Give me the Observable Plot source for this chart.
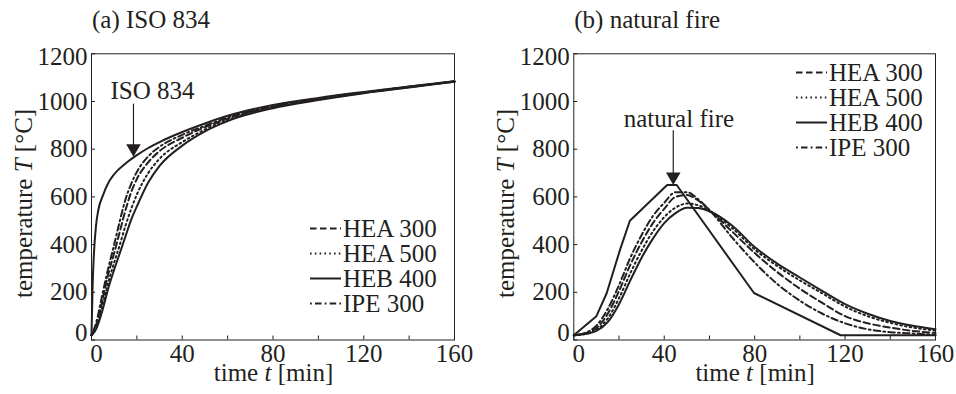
<!DOCTYPE html>
<html><head><meta charset="utf-8">
<script src="https://cdn.jsdelivr.net/npm/d3@7"></script>
<script src="https://cdn.jsdelivr.net/npm/@observablehq/plot@0.6"></script>
<style>
body{margin:0;background:#fff;}
#wrap{display:flex;width:956px;height:394px;}
</style></head><body><div id="wrap"></div>
<script>
// ---------- data ----------
// (a) ISO 834
const timeA   = [0, 2, 5, 7.5, 10, 12.5, 15, 17.5, 20, 25, 30, 40, 50, 60, 80, 100, 120, 140, 160];
const hea300A = [20, 60, 175, 280, 365, 455, 545, 620, 675, 745, 792, 848, 892, 928, 978, 1010, 1037, 1061, 1084];
const hea500A = [20, 50, 150, 245, 325, 400, 480, 550, 610, 700, 760, 830, 882, 922, 975, 1008, 1036, 1060, 1083];
const heb400A = [20, 45, 130, 220, 295, 365, 435, 505, 560, 660, 730, 815, 875, 918, 972, 1006, 1035, 1059, 1083];
const ipe300A = [20, 70, 200, 305, 400, 500, 590, 655, 705, 770, 810, 860, 898, 933, 980, 1012, 1038, 1062, 1084];
const isoTime = [0, 0.5, 1, 2, 3, 5, 7.5, 10, 15, 20, 25, 30, 40, 50, 60, 80, 100, 120, 140, 160];
const isoTemp = [20, 230, 350, 480, 545, 605, 660, 695, 740, 775, 805, 830, 872, 908, 940, 985, 1015, 1040, 1063, 1085];
// (b) natural fire
const timeB   = [0, 5, 10, 15, 20, 25, 30, 35, 40, 45, 50, 55, 60, 70, 80, 90, 100, 110, 120, 130, 140, 150, 160];
const hea300B = [20, 28, 50, 110, 205, 315, 410, 490, 550, 600, 608, 585, 545, 455, 365, 285, 215, 155, 100, 70, 52, 38, 30];
const hea500B = [20, 25, 42, 90, 175, 280, 375, 455, 515, 555, 572, 565, 540, 470, 380, 310, 250, 195, 140, 100, 72, 52, 40];
const heb400B = [20, 25, 38, 75, 150, 250, 345, 425, 490, 532, 555, 553, 540, 480, 390, 320, 262, 205, 150, 110, 80, 60, 45];
const ipe300B = [20, 30, 60, 130, 230, 345, 440, 520, 575, 620, 620, 590, 545, 430, 325, 235, 165, 110, 70, 45, 33, 27, 22];
const fireTime = [0, 10, 14.5, 20.5, 24.8, 41.3, 45.5, 79.7, 118, 160];
const fireTemp = [20, 100, 195, 380, 500, 650, 650, 197, 20, 20];
// names, ticks, texts
const seriesNames = ["HEA 300", "HEA 500", "HEB 400", "IPE 300"];
const xTickMarks  = [0, 20, 40, 60, 80, 100, 120, 140, 160];
const xTickLabels = [0, 40, 80, 120, 160];
const yTickLabels = [0, 200, 400, 600, 800, 1000, 1200];
const panelTitles = ["(a) ISO 834", "(b) natural fire"];
const annTexts    = ["ISO 834", "natural fire"];
const annTextT    = [26.9, 46.5];
const annTextV    = [1010, 895];
const arrowT      = [18.5, 44];
const arrowTopV   = [991, 879];
const arrowTipV   = [768, 650];

// ---------- styles ----------
const ink = "#231f20";
const FONT = '"Liberation Serif", "Times New Roman", serif';
const dashOf = {"HEA 300": "6.5,3.5", "HEA 500": "1.6,3.2", "HEB 400": null, "IPE 300": "1.8,3.2,6.5,3.2"};
const SW = 2;
const fmt = d => String(d);

function makePanel(idx, time, values, refTime, refTemp, refCurve, ml, mr, legendX, legendY) {
  const W = 478, H = 394, mt = 53.3, mb = 54.5;
  const fw = W - ml - mr, fh = H - mt - mb;
  const lines = seriesNames.map((name, k) =>
    Plot.line(time.map((t, i) => ({t, v: values[k][i]})), {
      x: "t", y: "v", stroke: ink, strokeWidth: SW, curve: "monotone-x",
      strokeDasharray: dashOf[name]
    }));
  const axisOpts = {tickSize: 0, fontSize: 25, fill: ink, tickFormat: fmt};
  const svg = Plot.plot({
    width: W, height: H, marginLeft: ml, marginRight: mr, marginTop: mt, marginBottom: mb,
    style: {fontFamily: FONT, fontSize: "25px", color: ink, background: "white", overflow: "visible"},
    x: {domain: [0, 160], label: null},
    y: {domain: [0, 1200], label: null},
    marks: [
      Plot.tickX(xTickMarks, {x: d => d, insetTop: fh - 4, stroke: ink, strokeWidth: 1}),
      Plot.tickY(yTickLabels, {y: d => d, insetRight: fw - 4, stroke: ink, strokeWidth: 1}),
      Plot.axisX(xTickLabels.filter(d => d !== 0), {...axisOpts, tickPadding: 4}),
      Plot.axisX([0], {...axisOpts, tickPadding: 4, dx: 5}),
      Plot.axisY(yTickLabels.filter(d => d !== 0 && d !== 1200), {...axisOpts, tickPadding: 4}),
      Plot.axisY([0], {...axisOpts, tickPadding: 4, dy: -7}),
      Plot.axisY([1200], {...axisOpts, tickPadding: 4, dy: 3}),
      ...lines,
      Plot.line(refTime.map((t, i) => ({t, v: refTemp[i]})), {x: "t", y: "v", stroke: ink, strokeWidth: SW, curve: refCurve}),
      Plot.link([0], {x1: () => arrowT[idx], x2: () => arrowT[idx], y1: () => arrowTopV[idx], y2: () => arrowTipV[idx] + 20, stroke: ink, strokeWidth: 1.2}),
      Plot.dot([0], {x: () => arrowT[idx], y: () => arrowTipV[idx], symbol: "triangle", rotate: 180, r: 5.4, fill: ink, stroke: null, dy: -8.4}),
      Plot.text([annTexts[idx]], {x: () => annTextT[idx], y: () => annTextV[idx], text: d => d, lineAnchor: "bottom", textAnchor: "middle", fontSize: 25, fill: ink}),
      Plot.frame({stroke: ink, strokeWidth: 1})
    ]
  });
  const s = d3.select(svg);
  // panel title
  s.append("text").attr("x", ml + 1).attr("y", 28).attr("text-anchor", "start").attr("fill", ink).style("font-size", "25px").text(panelTitles[idx]);
  // x label
  const xl = s.append("text").attr("x", ml + fw / 2 + 1).attr("y", 381).attr("text-anchor", "middle").attr("fill", ink).style("font-size", "25px");
  xl.append("tspan").text("time ");
  xl.append("tspan").style("font-style", "italic").text("t");
  xl.append("tspan").text(" [min]");
  // y label
  const yl = s.append("text").attr("transform", `translate(${ml - 59},${mt + fh / 2 + 7}) rotate(-90)`).attr("text-anchor", "middle").attr("fill", ink).style("font-size", "25px");
  yl.append("tspan").text("temperature ");
  yl.append("tspan").style("font-style", "italic").text("T");
  yl.append("tspan").text(" [\u00B0C]");
  // legend
  const g = s.append("g");
  seriesNames.forEach((name, i) => {
    const y = legendY + i * 25;
    g.append("line").attr("x1", legendX).attr("x2", legendX + 31).attr("y1", y - 8.5).attr("y2", y - 8.5)
      .attr("stroke", ink).attr("stroke-width", SW).attr("stroke-dasharray", dashOf[name]);
    g.append("text").attr("x", legendX + 33).attr("y", y).attr("text-anchor", "start").attr("fill", ink).style("font-size", "25px").text(name);
  });
  return svg;
}

const wrap = document.getElementById("wrap");
wrap.appendChild(makePanel(0, timeA, [hea300A, hea500A, heb400A, ipe300A], isoTime, isoTemp, "monotone-x", 91, 24, 310, 237));
wrap.appendChild(makePanel(1, timeB, [hea300B, hea500B, heb400B, ipe300B], fireTime, fireTemp, "linear", 95.3, 21, 318, 81));
</script></body></html>
